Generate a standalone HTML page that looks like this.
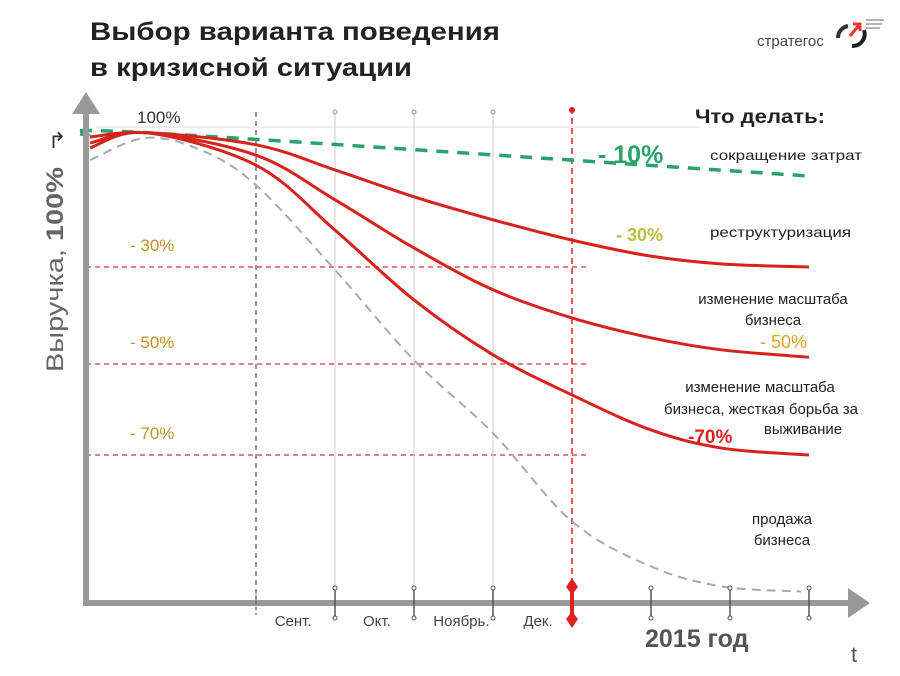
<!DOCTYPE html>
<html><head><meta charset="utf-8"><style>
body{margin:0;background:#fff;}
svg{display:block;font-family:"Liberation Sans",sans-serif;}
</style></head><body>
<svg width="900" height="676" viewBox="0 0 900 676">
<g id="static">
<text x="90" y="40" font-size="25" font-weight="bold" fill="#222" textLength="410" lengthAdjust="spacingAndGlyphs">Выбор варианта поведения</text>
<text x="90" y="76" font-size="25" font-weight="bold" fill="#222" textLength="322" lengthAdjust="spacingAndGlyphs">в кризисной ситуации</text>
<g>
<text x="757" y="46" font-size="15" fill="#444">стратегос</text>
<path d="M848 26 A12 12 0 0 0 838 38" stroke="#333" stroke-width="4" fill="none"/>
<path d="M864 30 A12 12 0 0 1 852 46" stroke="#222" stroke-width="4" fill="none"/>
<path d="M850 36 L860 24 M853 24 L860 24 L860 31" stroke="#e33" stroke-width="3" fill="none"/>
<path d="M866 20 H884 M866 24 H882 M866 28 H880" stroke="#999" stroke-width="1.5"/>
</g>
<text x="137" y="123" font-size="17" fill="#333">100%</text>
<text x="695" y="123" font-size="19" font-weight="bold" fill="#222" textLength="130" lengthAdjust="spacingAndGlyphs">Что делать:</text>
<text x="598" y="163" font-size="25" font-weight="bold" fill="#2aa36a">- 10%</text>
<text x="710" y="160" font-size="14" fill="#222" textLength="152" lengthAdjust="spacingAndGlyphs">сокращение затрат</text>
<text x="616" y="241" font-size="18" font-weight="bold" fill="#b8c040">- 30%</text>
<text x="710" y="237" font-size="14" fill="#222" textLength="141" lengthAdjust="spacingAndGlyphs">реструктуризация</text>
<text x="773" y="304" font-size="15" fill="#222" text-anchor="middle">изменение масштаба</text>
<text x="773" y="325" font-size="15" fill="#222" text-anchor="middle">бизнеса</text>
<text x="760" y="348" font-size="18" fill="#e8a020">- 50%</text>
<text x="760" y="392" font-size="15" fill="#222" text-anchor="middle">изменение масштаба</text>
<text x="761" y="414" font-size="15" fill="#222" text-anchor="middle">бизнеса, жесткая борьба за</text>
<text x="803" y="434" font-size="15" fill="#222" text-anchor="middle">выживание</text>
<text x="688" y="443" font-size="19" font-weight="bold" fill="#d22">-70%</text>
<text x="782" y="524" font-size="15" fill="#222" text-anchor="middle">продажа</text>
<text x="782" y="545" font-size="15" fill="#222" text-anchor="middle">бизнеса</text>
<text transform="translate(63,372) rotate(-90)" font-size="24" fill="#666" textLength="205" lengthAdjust="spacingAndGlyphs">Выручка, <tspan font-weight="bold">100%</tspan></text>
<text x="48" y="148" font-size="22" fill="#333">↱</text>
<text x="645" y="647" font-size="25" font-weight="bold" fill="#555">2015 год</text>
<text x="851" y="662" font-size="22" fill="#555">t</text>
</g>
<g id="grid"></g>
<g id="series"></g>
<g id="axes">
<line x1="86" y1="112" x2="86" y2="604" stroke="#999" stroke-width="6"/>
<polygon points="72,114 86,92 100,114" fill="#999"/>
<line x1="83" y1="603" x2="850" y2="603" stroke="#999" stroke-width="6"/>
<polygon points="848,588 870,603 848,618" fill="#999"/>
</g>
<g id="ticks"></g>
</svg>
<script>
const lossTicks=[0,30,50,70];
const leftTickLabels=["- 30%","- 50%","- 70%"];
const months=["Сент.","Окт.","Ноябрь.","Дек."];
const monthT=[0.47,1.53,2.6,3.57];
const gridT=[1,2,3,5,6,7];
const markerT=4;
const tRed=[-2.1,-1.4,0,1,2,3,4,5,5.9,7];
const restructure=[0,-1,1.8,7.6,13.8,19.1,23.8,27.5,29.3,30];
const rescale=[1.4,-1,4.2,14.5,25.6,34.7,40.5,44.6,47.1,48.6];
const survival=[2.5,-1,6.5,21.5,36.8,48.1,56.8,64.5,68.5,70];
const tGrey=[-2.1,-1.4,-0.7,0,1,2,3,4,5,5.9,6.9];
const sellOff=[5.3,0.2,3,11.1,30.6,49.2,65.2,84.6,94.5,98.9,100];
const tGreen=[-2.1,-1.4,7];
const costCut=[0,-1,9];

const yPix=[137,267,364,455];
function x(t){return 256+t*79;}
function y(v){
  if(v<=lossTicks[1])return yPix[0]+(v-lossTicks[0])*(yPix[1]-yPix[0])/(lossTicks[1]-lossTicks[0]);
  if(v<=lossTicks[2])return yPix[1]+(v-lossTicks[1])*(yPix[2]-yPix[1])/(lossTicks[2]-lossTicks[1]);
  return yPix[2]+(v-lossTicks[2])*(yPix[3]-yPix[2])/(lossTicks[3]-lossTicks[2]);
}
const NS="http://www.w3.org/2000/svg";
function mk(tag,attrs,parent){const e=document.createElementNS(NS,tag);for(const k in attrs)e.setAttribute(k,attrs[k]);parent.appendChild(e);return e;}
function smooth(ts,vs){
  const p=ts.map((t,i)=>[x(t),y(vs[i])]);
  let d="M"+p[0][0]+" "+p[0][1];
  for(let i=0;i<p.length-1;i++){
    const p0=p[i-1]||p[i],p1=p[i],p2=p[i+1],p3=p[i+2]||p2;
    const c1=[p1[0]+(p2[0]-p0[0])/6,p1[1]+(p2[1]-p0[1])/6];
    const c2=[p2[0]-(p3[0]-p1[0])/6,p2[1]-(p3[1]-p1[1])/6];
    d+=` C${c1[0]} ${c1[1]} ${c2[0]} ${c2[1]} ${p2[0]} ${p2[1]}`;
  }
  return d;
}
const grid=document.getElementById('grid');
lossTicks.slice(1).forEach((v,i)=>{
  const l=mk('line',{x1:86,x2:590,y1:y(v),y2:y(v),stroke:'#d33','stroke-width':1.3,'stroke-dasharray':'5,4'},grid);
  
  
  const tx=mk('text',{x:130,y:y(v)-16,'font-size':17,fill:'#c8902a'},grid);
  tx.textContent=leftTickLabels[i];
  
  
});
mk('line',{x1:96,x2:700,y1:127,y2:127,stroke:'#ddd','stroke-width':1},grid);
const vl0=mk('line',{x1:x(0),x2:x(0),y1:112,y2:600,stroke:'#333','stroke-width':1,'stroke-dasharray':'5,4'},grid);


[1,2,3].forEach(t=>{
  const l=mk('line',{x1:x(t),x2:x(t),y1:112,y2:600,stroke:'#ccc','stroke-width':1},grid);
  
  
  mk('circle',{cx:x(t),cy:112,r:2,fill:'none',stroke:'#999'},grid);
});
const vr=mk('line',{x1:x(markerT),x2:x(markerT),y1:108,y2:600,stroke:'#d22','stroke-width':1.5,'stroke-dasharray':'6,4'},grid);


mk('circle',{cx:x(markerT),cy:110,r:3,fill:'#d22'},grid);

const ser=document.getElementById('series');
const g=mk('path',{d:smooth(tGrey,sellOff),fill:'none',stroke:'#aaa','stroke-width':2,'stroke-dasharray':'9,6'},ser);


const gr=mk('path',{d:smooth(tGreen,costCut),fill:'none',stroke:'#2aa36a','stroke-width':3.5,'stroke-dasharray':'12,9'},ser);


[[restructure,'series-restructuring'],[rescale,'series-rescale'],[survival,'series-survival']].forEach(([vs,n])=>{
  const p=mk('path',{d:smooth(tRed,vs),fill:'none',stroke:'#d8231c','stroke-width':3},ser);
  
  
});

const tk=document.getElementById('ticks');
gridT.forEach(t=>{
  const l=mk('line',{x1:x(t),x2:x(t),y1:588,y2:618,stroke:'#555','stroke-width':1.5},tk);
  
  
  mk('circle',{cx:x(t),cy:588,r:2,fill:'#fff',stroke:'#555'},tk);
  mk('circle',{cx:x(t),cy:618,r:2,fill:'#fff',stroke:'#555'},tk);
});
mk('line',{x1:x(0),x2:x(0),y1:595,y2:615,stroke:'#333','stroke-width':1,'stroke-dasharray':'3,3'},tk);
const mx=x(markerT);
const mr=mk('path',{d:`M${mx} 578 L${mx+6} 587 L${mx+2} 592 V614 L${mx+6} 619 L${mx} 628 L${mx-6} 619 L${mx-2} 614 V592 L${mx-6} 587 Z`,fill:'#d22'},tk);


months.forEach((m,i)=>{
  const tx=mk('text',{x:x(monthT[i]),y:626,'font-size':15,fill:'#444','text-anchor':'middle'},tk);
  tx.textContent=m;
  
  
});
</script>
</body></html>
